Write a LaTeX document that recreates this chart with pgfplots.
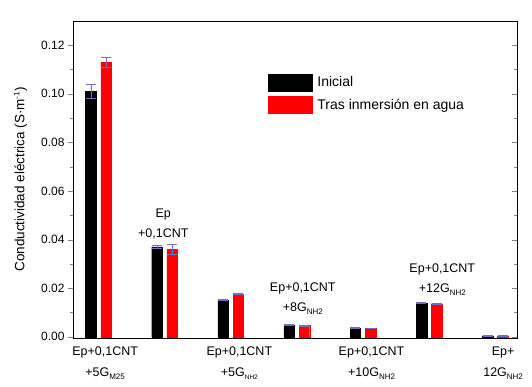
\documentclass[border=0pt]{standalone}
\usepackage{pgfplots}
\pgfplotsset{compat=1.18}
\usepackage{fontspec}
\setmainfont{Liberation Sans}
\definecolor{errc}{RGB}{110,110,210}
\newcommand{\sub}[2][8]{\raisebox{-3pt}{\fontsize{#1}{#1}\selectfont #2}}
\begin{document}
\begin{tikzpicture}[x=1pt,y=1pt]
\begin{axis}[
  name=ax,
  width=444pt, height=317pt, scale only axis,
  xmin=-0.386, xmax=6.33,
  ymin=-0.0005, ymax=0.13,
  ybar, bar width=0.16,
  xtick=\empty,
  ytick={0,0.02,...,0.12},
  minor y tick num=1,
  yticklabel style={/pgf/number format/.cd,fixed,fixed zerofill,precision=2},
  /pgf/number format/assume math mode=true,
  tick label style={font=\fontsize{12}{14}\selectfont},
  ytick pos=left,
  tick align=outside,
  major tick length=5pt, minor tick length=3pt,
  axis line style={line width=0.8pt},
  ylabel={Conductividad eléctrica (S·m\raisebox{5pt}{\fontsize{8}{8}\selectfont -1})},
  ylabel style={font=\fontsize{13.5}{15}\selectfont, yshift=7pt},
  legend style={draw=none, fill=none, at={(0.432,0.84)}, anchor=north west, font=\fontsize{14}{16}\selectfont, row sep=5pt, cells={anchor=west}},
  legend image code/.code={\fill[#1] (0pt,-8.5pt) rectangle (44pt,8.5pt);},
  clip=false,
]
\addplot[fill=black, draw=black, bar shift=-0.115,
  error bars/.cd, y dir=both, y explicit, error mark=|, error bar style={errc, line width=0.6pt}, error mark options={errc, mark size=5pt, line width=0.6pt}]
  coordinates {
  (0,0.101) +- (0,0.003)
  (1,0.037) +- (0,0.0006)
  (2,0.0152) +- (0,0.0003)
  (3,0.0049) +- (0,0.0002)
  (4,0.0036) +- (0,0.0001)
  (5,0.0138) +- (0,0.0002)
  (6,0.0004) +- (0,0.0001)
  };
\addplot[fill=red, draw=red, bar shift=0.115,
  error bars/.cd, y dir=both, y explicit, error mark=|, error bar style={errc, line width=0.6pt}, error mark options={errc, mark size=5pt, line width=0.6pt}]
  coordinates {
  (0,0.113) +- (0,0.002)
  (1,0.036) +- (0,0.002)
  (2,0.0175) +- (0,0.0002)
  (3,0.0046) +- (0,0.0002)
  (4,0.0035) +- (0,0.0001)
  (5,0.0136) +- (0,0.0002)
  (6,0.0004) +- (0,0.0001)
  };
\legend{\hspace{3pt}Inicial,\hspace{3pt}Tras inmersión en agua}
\begin{scope}[every node/.style={font=\fontsize{12.5}{14}\selectfont, align=center, inner sep=0pt}]
% below-axis labels
\node[anchor=north] at (axis cs:0.10,-0.0042) {Ep+0,1CNT\\[7pt]+5G\sub{M25}};
\node[anchor=north] at (axis cs:2.13,-0.0042) {Ep+0,1CNT\\[7pt]+5G\sub[6.5]{NH2}};
\node[anchor=north] at (axis cs:4.13,-0.0042) {Ep+0,1CNT\\[7pt]+10G\sub{NH2}};
\node[anchor=north] at (axis cs:6.12,-0.0042) {Ep+\\[7pt]12G\sub{NH2}};
% above-bar labels
\node[anchor=south] at (axis cs:0.98,0.040) {Ep\\[6pt]+0,1CNT};
\node[anchor=south] at (axis cs:3.09,0.0092) {Ep+0,1CNT\\[6pt]+8G\sub{NH2}};
\node[anchor=south] at (axis cs:5.2,0.0168) {Ep+0,1CNT\\[6pt]+12G\sub{NH2}};
\end{scope}
\end{axis}
\begin{axis}[
  width=444pt, height=317pt, scale only axis,
  xmin=-0.386, xmax=6.33,
  ymin=-0.0005, ymax=0.13,
  axis x line=none, axis y line*=right,
  ytick={0,0.02,...,0.12}, minor y tick num=1,
  yticklabels={}, tick align=inside,
  major tick length=5pt, minor tick length=3pt,
  axis line style={line width=0.8pt},
]
\end{axis}
\pgfresetboundingbox
\path ([shift={(-73pt,-49pt)}]ax.south west) rectangle ([shift={(15pt,21pt)}]ax.north east);
\end{tikzpicture}
\end{document}
